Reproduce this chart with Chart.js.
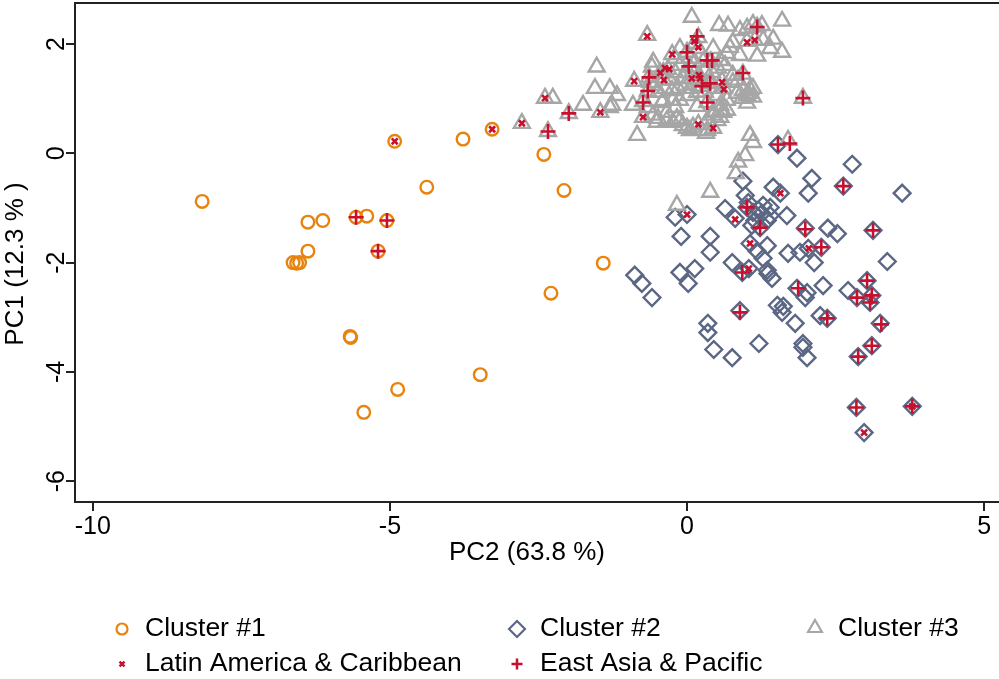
<!DOCTYPE html>
<html>
<head>
<meta charset="utf-8">
<script src="https://cdn.jsdelivr.net/npm/chart.js@4.4.1/dist/chart.umd.min.js"></script>
<style>
  html, body { margin: 0; padding: 0; background: #fff; }
  #wrap { width: 999px; height: 679px; }
</style>
</head>
<body>
<div id="wrap"><canvas id="myChart" width="999" height="679"></canvas></div>
<script>
// axis ranges and ticks
const xMin = -10.3, xMax = 5.25;
const yMin = -6.38, yMax = 2.75;
const xTicks = [-10, -5, 0, 5];
const yTicks = [-6, -4, -2, 0, 2];

const xTitle = "PC2 (63.8 %)";
const yTitle = "PC1 (12.3 % )";

// [PC2, PC1]
const cluster1 = [
  [-4.92, 0.22], [-3.77, 0.26], [-3.28, 0.44], [-4.38, -0.62], [-8.16, -0.88],
  [-6.38, -1.26], [-6.13, -1.23], [-5.57, -1.17], [-5.39, -1.15], [-5.05, -1.23],
  [-6.38, -1.79], [-5.20, -1.79], [-6.63, -2.00], [-6.57, -2.01], [-6.52, -2.00],
  [-2.41, -0.02], [-2.07, -0.68], [-1.41, -2.01], [-2.29, -2.56], [-3.48, -4.05],
  [-5.66, -3.37], [-5.67, -3.35], [-4.87, -4.32], [-5.44, -4.74]
];

const cluster2 = [
  [1.53, 0.16], [1.85, -0.09], [0.94, -0.51], [1.45, -0.62], [1.57, -0.73],
  [1.03, -0.90], [1.01, -0.99], [0.64, -1.01], [0.81, -1.19], [1.11, -1.08],
  [1.20, -1.04], [1.28, -0.95], [1.40, -0.99], [1.23, -1.36], [1.68, -1.14],
  [-0.20, -1.17], [0.00, -1.12], [-0.10, -1.52], [0.39, -1.52], [0.39, -1.81],
  [1.06, -1.65], [1.35, -1.69], [1.18, -1.79], [1.28, -1.92], [1.70, -1.83],
  [0.76, -2.00], [0.93, -2.18], [1.04, -2.11], [1.35, -2.14], [1.43, -2.29],
  [1.36, -2.20], [1.85, -2.47], [-0.88, -2.23], [-0.76, -2.38], [-0.59, -2.64],
  [-0.12, -2.18], [0.13, -2.11], [0.02, -2.38], [0.89, -2.88], [1.52, -2.78],
  [2.78, -0.20], [2.10, -0.46], [2.63, -0.60], [2.04, -0.73], [1.26, -1.10],
  [1.14, -1.23], [1.35, -1.23], [1.99, -1.37], [2.37, -1.37], [2.53, -1.47],
  [3.13, -1.41], [1.90, -1.81], [2.04, -1.74], [2.26, -1.72], [2.14, -2.00],
  [2.02, -2.55], [1.99, -2.64], [2.29, -2.42], [2.71, -2.51], [2.86, -2.64],
  [3.03, -2.33], [3.11, -2.60], [3.08, -2.73], [3.37, -1.98], [1.60, -2.91],
  [2.24, -2.97], [2.36, -3.02], [1.82, -3.11], [3.25, -3.11], [0.35, -3.11],
  [3.62, -0.73], [0.35, -3.28], [0.45, -3.59], [0.76, -3.74], [1.62, -2.80],
  [1.21, -3.48], [1.95, -3.48], [1.95, -3.55], [2.02, -3.74], [3.11, -3.52],
  [2.88, -3.72], [2.85, -4.65], [3.79, -4.63], [2.98, -5.11], [0.98, -0.77],
  [1.09, -1.32], [1.40, -1.14]
];

const cluster3 = [
  [0.08, 2.49], [-0.67, 2.16], [0.54, 2.34], [0.69, 2.33], [0.89, 2.25],
  [1.01, 2.29], [1.11, 2.36], [1.18, 2.31], [1.60, 2.42], [1.26, 2.34],
  [1.01, 2.05], [1.14, 2.07], [1.28, 2.07], [1.45, 2.09], [1.40, 1.92],
  [1.60, 1.85], [1.18, 1.78], [0.19, 2.12], [0.13, 2.01], [0.19, 1.92],
  [0.00, 1.85], [-0.25, 1.81], [0.27, 1.68], [0.40, 1.68], [0.05, 1.58],
  [-0.40, 1.48], [-0.32, 1.54], [-0.45, 1.47], [-0.39, 1.34], [-0.64, 1.39],
  [-0.89, 1.32], [-0.66, 1.14], [-0.74, 0.95], [-0.74, 0.66], [0.22, 1.37],
  [0.25, 1.23], [0.39, 1.28], [0.59, 1.32], [0.62, 1.19], [0.34, 0.93],
  [0.94, 1.45], [0.19, 0.53], [0.44, 0.46], [1.95, 1.01], [-2.39, 1.01],
  [-1.99, 0.73], [-1.46, 0.75], [-2.34, 0.40], [-2.78, 0.55], [-1.52, 1.58],
  [-1.55, 1.19], [-1.30, 1.19], [-1.18, 1.06], [-1.75, 0.88], [-2.26, 1.01],
  [-1.30, 0.84], [-0.84, 0.33], [-0.91, 0.88], [-0.66, 0.84], [-0.40, 0.97],
  [-0.24, 0.97], [-0.57, 0.70], [-0.34, 0.75], [-0.17, 0.64], [-0.51, 0.57],
  [-0.24, 0.57], [-0.07, 0.51], [0.00, 0.46], [0.34, 0.42], [0.17, 0.86],
  [0.56, 0.79], [0.67, 0.97], [0.44, 0.70], [0.56, 0.66], [0.67, 0.79],
  [0.77, 1.43], [0.86, 1.34], [1.06, 1.17], [1.01, 1.06], [0.93, 1.01],
  [1.11, 1.03], [1.01, 0.92], [-0.57, 1.67], [-0.59, 1.58], [1.06, 0.33],
  [1.11, 0.20], [1.70, 0.24], [0.08, 1.37], [0.20, 1.43], [-1.26, 0.88],
  [-0.62, 1.30], [-0.49, 1.12], [-0.42, 0.93], [-0.20, 0.84], [-0.49, 0.64],
  [-0.34, 0.60], [-0.12, 0.60], [0.10, 0.48], [0.34, 0.60], [0.44, 0.75],
  [0.61, 0.75], [0.51, 0.60], [0.77, 1.30], [0.84, 1.10], [0.94, 1.15],
  [1.03, 1.10], [1.11, 1.19], [0.67, 1.83], [0.72, 1.94], [0.77, 2.03],
  [0.89, 1.79], [0.44, 1.92], [-0.12, 1.92], [-0.20, 1.74], [-0.15, 1.19],
  [-0.03, 1.25], [0.05, 1.19], [0.51, 1.06], [0.56, 0.88], [0.05, 0.42],
  [0.32, 0.37], [0.98, -0.04], [0.86, -0.16], [0.82, -0.37], [0.39, -0.71],
  [-0.17, -0.95], [-0.29, 1.34], [-0.20, 1.48], [-0.12, 1.61], [-0.03, 1.48],
  [0.05, 1.74], [0.13, 1.67], [0.30, 1.52], [0.42, 1.48], [0.52, 1.56],
  [-0.07, 1.37], [-0.25, 1.15], [-0.37, 1.19], [-0.54, 1.25], [-0.12, 0.97],
  [0.02, 1.06], [0.30, 1.12], [0.47, 1.19], [0.56, 1.70], [0.64, 1.61],
  [0.17, 1.12]
];

const latinAmerica = [
  [-4.92, 0.22], [-3.28, 0.44], [-2.78, 0.55], [-2.39, 1.01], [-1.46, 0.75],
  [-0.74, 0.66], [-0.89, 1.32], [-0.45, 1.47], [-0.39, 1.34], [-0.37, 1.56],
  [-0.30, 1.54], [-0.67, 2.14], [-0.25, 1.81], [0.12, 2.05], [0.19, 1.94],
  [0.08, 1.37], [0.20, 1.43], [0.22, 1.37], [0.59, 1.30], [0.62, 1.17],
  [0.19, 0.53], [0.44, 0.46], [1.01, 2.03], [1.14, 2.07], [1.57, -0.73],
  [0.81, -1.21], [1.06, -1.65], [1.04, -2.11], [0.00, -1.12], [2.05, -1.74],
  [2.98, -5.11], [3.79, -4.63]
];

const eastAsia = [
  [-5.57, -1.17], [-5.05, -1.23], [-5.20, -1.79], [-1.99, 0.73], [-2.34, 0.40],
  [-0.64, 1.39], [-0.66, 1.14], [-0.74, 0.93], [0.00, 1.85], [0.17, 2.14],
  [0.34, 1.70], [0.42, 1.70], [0.03, 1.59], [0.25, 1.23], [0.39, 1.28],
  [0.34, 0.93], [0.94, 1.47], [1.18, 2.31], [1.95, 1.01], [1.53, 0.16],
  [1.73, 0.18], [1.01, -0.99], [1.23, -1.36], [0.93, -2.18], [1.87, -2.47],
  [0.89, -2.91], [2.63, -0.60], [1.99, -1.39], [3.13, -1.41], [2.26, -1.72],
  [2.86, -2.64], [3.03, -2.33], [3.11, -2.60], [3.08, -2.73], [2.36, -3.02],
  [3.27, -3.13], [3.11, -3.52], [2.88, -3.72], [2.85, -4.65], [3.79, -4.63]
];

const orange = "#e8830e";
const slate = "#5b6784";
const grey = "#a6a6a6";
const crimson = "#c8102e";
const fontFamily = "'Liberation Sans', Arial, sans-serif";

function toPoints(pairs) {
  return pairs.map((p) => ({ x: p[0], y: p[1] }));
}

// legend entries: marker style + where it sits
const legendItems = [
  { text: "Cluster #1", style: "circle", color: orange, size: 5.5, width: 2.2, x: 122, y: 629 },
  { text: "Cluster #2", style: "rectRot", color: slate, size: 8, width: 2.2, x: 517, y: 629 },
  { text: "Cluster #3", style: "triangle", color: grey, size: 8, width: 2.2, x: 815, y: 628 },
  { text: "Latin America & Caribbean", style: "crossRot", color: crimson, size: 3.5, width: 2.5, x: 122, y: 664 },
  { text: "East Asia & Pacific", style: "cross", color: crimson, size: 5.5, width: 2.5, x: 517, y: 664 },
];

function noPadding(s) {
  s.paddingLeft = 0;
  s.paddingRight = 0;
  s.paddingTop = 0;
  s.paddingBottom = 0;
}

const extras = {
  id: "extras",
  afterDraw(chart) {
    const ctx = chart.ctx;
    const area = chart.chartArea;
    const yScale = chart.scales.y;

    ctx.save();
    // top frame line
    ctx.strokeStyle = "#222";
    ctx.lineWidth = 2;
    ctx.beginPath();
    ctx.moveTo(area.left, area.top);
    ctx.lineTo(area.right, area.top);
    ctx.stroke();

    ctx.fillStyle = "#000";
    ctx.font = "25px " + fontFamily;
    ctx.textAlign = "center";
    ctx.textBaseline = "middle";

    // rotated y tick labels
    yTicks.forEach((v) => {
      ctx.save();
      ctx.translate(57, yScale.getPixelForValue(v));
      ctx.rotate(-Math.PI / 2);
      ctx.fillText(String(v), 0, 0);
      ctx.restore();
    });

    // y title
    ctx.font = "26px " + fontFamily;
    ctx.save();
    ctx.translate(16, 264);
    ctx.rotate(-Math.PI / 2);
    ctx.fillText(yTitle, 0, 0);
    ctx.restore();

    // x title
    ctx.fillText(xTitle, 527, 553);

    // legend
    ctx.font = "26.5px " + fontFamily;
    ctx.textAlign = "left";
    legendItems.forEach((it) => {
      ctx.strokeStyle = it.color;
      ctx.fillStyle = "rgba(0,0,0,0)";
      ctx.lineWidth = it.width;
      Chart.helpers.drawPoint(ctx, { pointStyle: it.style, radius: it.size, rotation: 0, borderWidth: it.width }, it.x, it.y);
      ctx.fillStyle = "#000";
      ctx.fillText(it.text, it.x + 23, 629 + (it.y > 640 ? 35 : 0));
    });
    ctx.restore();
  },
};

new Chart(document.getElementById("myChart"), {
  type: "scatter",
  data: {
    datasets: [
      {
        label: "Latin America & Caribbean",
        data: toPoints(latinAmerica),
        pointStyle: "crossRot",
        pointRadius: 4.2,
        borderWidth: 2.6,
        borderColor: crimson,
        backgroundColor: crimson,
        order: 1,
      },
      {
        label: "East Asia & Pacific",
        data: toPoints(eastAsia),
        pointStyle: "cross",
        pointRadius: 7.5,
        borderWidth: 2.6,
        borderColor: crimson,
        backgroundColor: crimson,
        order: 1,
      },
      {
        label: "Cluster #1",
        data: toPoints(cluster1),
        pointStyle: "circle",
        pointRadius: 6.3,
        borderWidth: 2.4,
        borderColor: orange,
        backgroundColor: "rgba(0,0,0,0)",
        order: 2,
      },
      {
        label: "Cluster #3",
        data: toPoints(cluster3),
        pointStyle: "triangle",
        pointRadius: 9.2,
        borderWidth: 2.4,
        borderColor: grey,
        backgroundColor: "rgba(0,0,0,0)",
        order: 3,
      },
      {
        label: "Cluster #2",
        data: toPoints(cluster2),
        pointStyle: "rectRot",
        pointRadius: 8.4,
        borderWidth: 2.4,
        borderColor: slate,
        backgroundColor: "rgba(0,0,0,0)",
        order: 4,
      },
    ],
  },
  options: {
    responsive: false,
    devicePixelRatio: 1,
    animation: false,
    events: [],
    layout: { autoPadding: false, padding: { top: 3, right: 0, left: 0, bottom: 0 } },
    plugins: {
      legend: { display: false },
      tooltip: { enabled: false },
    },
    scales: {
      x: {
        type: "linear",
        min: xMin,
        max: xMax,
        afterBuildTicks: (s) => {
          s.ticks = xTicks.map((v) => ({ value: v }));
        },
        afterFit: (s) => {
          s.height = 177;
          noPadding(s);
        },
        grid: { drawOnChartArea: false, drawTicks: true, tickLength: 9, color: "#222", lineWidth: 2 },
        border: { display: true, color: "#222", width: 2 },
        ticks: {
          color: "#000",
          font: { family: fontFamily, size: 25 },
          padding: 1,
          maxRotation: 0,
          callback: (v) => String(v),
        },
      },
      y: {
        type: "linear",
        min: yMin,
        max: yMax,
        afterBuildTicks: (s) => {
          s.ticks = yTicks.map((v) => ({ value: v }));
        },
        afterFit: (s) => {
          s.width = 75;
          noPadding(s);
        },
        grid: { drawOnChartArea: false, drawTicks: true, tickLength: 9, color: "#222", lineWidth: 2 },
        border: { display: true, color: "#222", width: 2 },
        ticks: { display: false },
      },
    },
  },
  plugins: [extras],
});
</script>
</body>
</html>
